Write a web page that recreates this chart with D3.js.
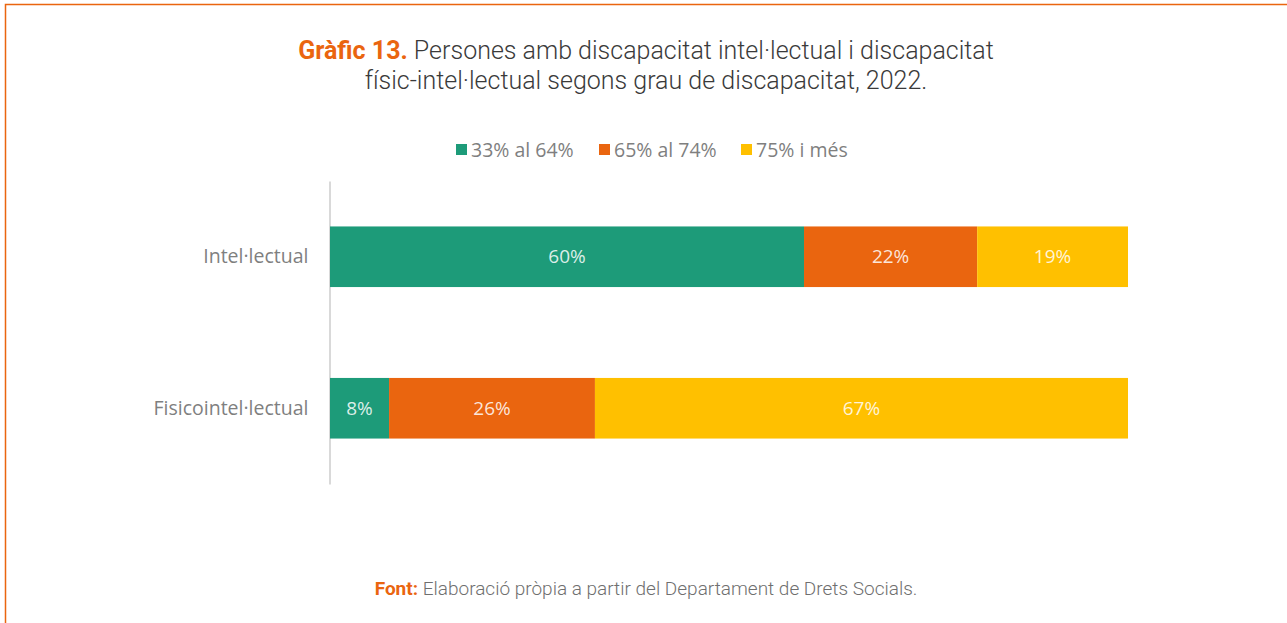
<!DOCTYPE html>
<html>
<head>
<meta charset="utf-8">
<script src="https://cdn.jsdelivr.net/npm/d3@7"></script>
<style>
    body { margin: 0; background: #fff; }
    svg { display: block; }
</style>
</head>
<body>
<div id="chart-holder"></div>
<script>
// data
var categories = ['Intel·lectual', 'Fisicointel·lectual'];
var seriesNames = ['33% al 64%', '65% al 74%', '75% i més'];
var low = [59.4, 7.4];
var mid = [21.7, 25.8];
var high = [18.9, 66.8];
var valueLabels = [['60%', '22%', '19%'], ['8%', '26%', '67%']];
var colors = ['#1d9b79', '#ea650f', '#ffc000'];

function buildChart(containerId) {
    var width = 1287;
    var height = 623;

    var svg = d3
        .select(containerId)
        .append('svg')
        .attr('width', width)
        .attr('height', height);

    // frame
    svg.append('path')
        .attr('d', 'M5.5,' + height + ' V4.5 H' + width)
        .attr('fill', 'none')
        .attr('stroke', '#ea650f')
        .attr('stroke-width', 1.5);

    // title
    var title = svg.append('text')
        .attr('x', 646)
        .attr('y', 59)
        .attr('text-anchor', 'middle')
        .style('font-family', 'Roboto')
        .style('font-size', '25px')
        .style('fill', '#3a3a3a');
    title.append('tspan')
        .style('font-weight', 'bold')
        .style('fill', '#ea650f')
        .text('Gràfic 13.');
    title.append('tspan')
        .style('font-weight', 300)
        .text(' Persones amb discapacitat intel·lectual i discapacitat');
    svg.append('text')
        .attr('x', 646)
        .attr('y', 89)
        .attr('text-anchor', 'middle')
        .style('font-family', 'Roboto')
        .style('font-size', '25px')
        .style('font-weight', 300)
        .style('fill', '#3a3a3a')
        .text('físic-intel·lectual segons grau de discapacitat, 2022.');

    // stack
    var rows = categories.map(function(c, i) {
        return { cat: c, s0: low[i], s1: mid[i], s2: high[i], idx: i };
    });
    var stack = d3.stack().keys(['s0', 's1', 's2'])(rows);

    var x = d3.scaleLinear().domain([0, 100]).range([330, 1128]);
    var y = d3.scaleBand().domain(categories).range([181, 484]).paddingInner(0.6).paddingOuter(0.3);

    // category axis
    var yAxis = d3.axisLeft(y).tickSize(0).tickPadding(21);
    var ga = svg.append('g')
        .attr('transform', 'translate(329.5,0)')
        .call(yAxis);
    ga.select('.domain').attr('stroke', '#d9d9d9').attr('stroke-width', 2);
    ga.selectAll('text')
        .style('font-family', 'Open Sans')
        .style('font-size', '19.5px')
        .style('fill', '#7f7f7f');

    // bars
    var layers = svg.selectAll('.layer')
        .data(stack)
        .enter()
        .append('g')
        .attr('class', 'layer')
        .attr('fill', function(d, i) { return colors[i]; });

    layers.selectAll('rect')
        .data(function(d) { return d; })
        .enter()
        .append('rect')
        .attr('x', function(d) { return x(d[0]); })
        .attr('y', function(d) { return y(d.data.cat); })
        .attr('width', function(d) { return x(d[1]) - x(d[0]); })
        .attr('height', y.bandwidth());

    // value labels
    layers.each(function(layer, li) {
        d3.select(this).selectAll('.val')
            .data(layer)
            .enter()
            .append('text')
            .attr('class', 'val')
            .attr('x', function(d) { return (x(d[0]) + x(d[1])) / 2; })
            .attr('y', function(d) { return y(d.data.cat) + y.bandwidth() / 2; })
            .attr('dy', '0.35em')
            .attr('text-anchor', 'middle')
            .style('font-family', 'Open Sans')
            .style('font-size', '19px')
            .style('fill', '#ffffff')
            .style('fill-opacity', 0.85)
            .text(function(d) { return valueLabels[d.data.idx][li]; });
    });

    // legend
    var legendX = [456, 599, 741];
    var legend = svg.selectAll('.legend')
        .data(seriesNames)
        .enter()
        .append('g')
        .attr('class', 'legend')
        .attr('transform', function(d, i) { return 'translate(' + legendX[i] + ',144)'; });
    legend.append('rect')
        .attr('width', 11)
        .attr('height', 11)
        .attr('fill', function(d, i) { return colors[i]; });
    legend.append('text')
        .attr('x', 15)
        .attr('y', 6)
        .attr('dy', '0.35em')
        .style('font-family', 'Open Sans')
        .style('font-size', '19.5px')
        .style('fill', '#7f7f7f')
        .text(function(d) { return d; });

    // source
    var src = svg.append('text')
        .attr('x', 646)
        .attr('y', 595)
        .attr('text-anchor', 'middle')
        .style('font-family', 'Roboto')
        .style('font-size', '19px')
        .style('fill', '#6f6f6f');
    src.append('tspan')
        .style('font-weight', 'bold')
        .style('fill', '#ea650f')
        .text('Font:');
    src.append('tspan')
        .style('font-weight', 300)
        .text(' Elaboració pròpia a partir del Departament de Drets Socials.');
}

buildChart('#chart-holder');
</script>
</body>
</html>
